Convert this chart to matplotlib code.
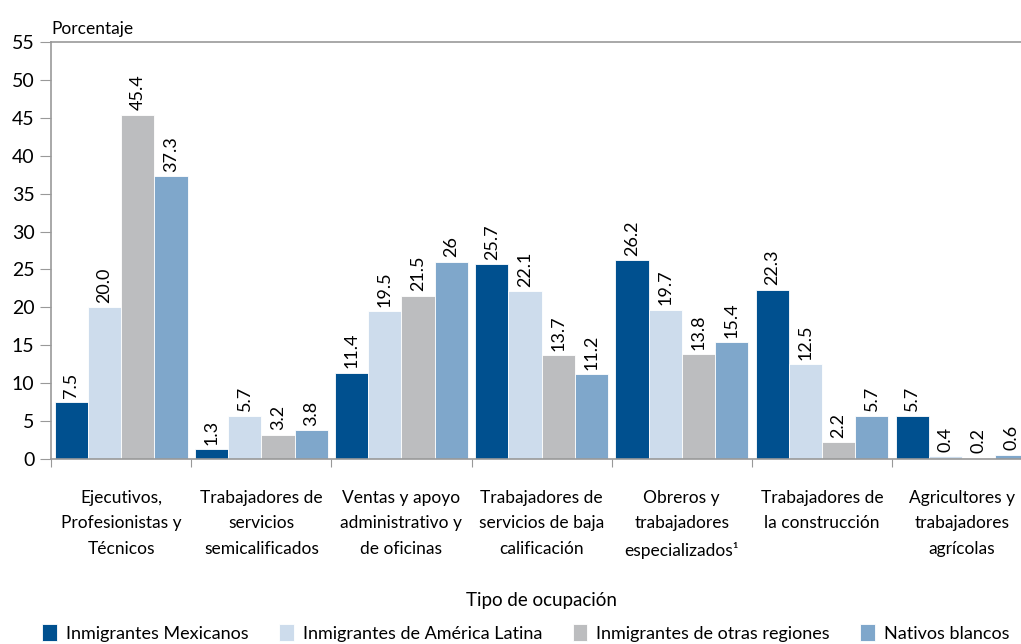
import matplotlib.pyplot as plt
import numpy as np

plt.rcParams['font.family'] = ['Lato', 'DejaVu Sans']

categories = ["Ejecutivos,\nProfesionistas y\nTécnicos",
              "Trabajadores de\nservicios\nsemicalificados",
              "Ventas y apoyo\nadministrativo y\nde oficinas",
              "Trabajadores de\nservicios de baja\ncalificación",
              "Obreros y\ntrabajadores\nespecializados¹",
              "Trabajadores de\nla construcción",
              "Agricultores y\ntrabajadores\nagrícolas"]
series_names = ["Inmigrantes Mexicanos", "Inmigrantes de América Latina",
                "Inmigrantes de otras regiones", "Nativos blancos"]
mexicanos = [7.5, 1.3, 11.4, 25.7, 26.2, 22.3, 5.7]
america_latina = [20.0, 5.7, 19.5, 22.1, 19.7, 12.5, 0.4]
otras_regiones = [45.4, 3.2, 21.5, 13.7, 13.8, 2.2, 0.2]
nativos = [37.3, 3.8, 26, 11.2, 15.4, 5.7, 0.6]
labels = [["7.5", "1.3", "11.4", "25.7", "26.2", "22.3", "5.7"],
          ["20.0", "5.7", "19.5", "22.1", "19.7", "12.5", "0.4"],
          ["45.4", "3.2", "21.5", "13.7", "13.8", "2.2", "0.2"],
          ["37.3", "3.8", "26", "11.2", "15.4", "5.7", "0.6"]]
colors = ["#00508f", "#cddcec", "#bcbdbf", "#7fa7cb"]

fig = plt.figure(figsize=(10.21, 6.44), dpi=100)
ax = fig.add_axes([0.05, 0.287, 0.961, 0.648])

x = np.arange(len(categories))
w = 0.237
series = [mexicanos, america_latina, otras_regiones, nativos]
for i, vals in enumerate(series):
    pos = x + (i - 1.5) * w
    ax.bar(pos, vals, width=w, color=colors[i], label=series_names[i],
           edgecolor='white', linewidth=0.6)
    for p, v, t in zip(pos, vals, labels[i]):
        ax.text(p, v + 0.6, t, rotation=90, ha='center', va='bottom',
                fontsize=13, color='black')

ax.set_xlim(-0.5, len(categories) - 0.5)
ax.set_ylim(0, 55)
ax.set_yticks(range(0, 56, 5))
ax.tick_params(axis='y', labelsize=14, length=8, color='#999999', pad=4)
ax.set_xticks(np.arange(len(categories) + 1) - 0.5)
ax.set_xticklabels([])
ax.set_xticks(x, minor=True)
ax.set_xticklabels(categories, minor=True, fontsize=12.5, linespacing=1.75)
ax.tick_params(axis='x', which='major', length=6, color='#999999')
ax.tick_params(axis='x', which='minor', length=0, pad=22)

for s in ['left', 'bottom', 'top']:
    ax.spines[s].set_color('#999999')
    ax.spines[s].set_linewidth(1.2)
ax.spines['right'].set_visible(False)

ax.text(0.0, 1.012, "Porcentaje", transform=ax.transAxes, fontsize=12.5,
        ha='left', va='bottom')
ax.set_xlabel("Tipo de ocupación", fontsize=13.5, labelpad=24)

fig.legend(*ax.get_legend_handles_labels(), loc='lower center',
           bbox_to_anchor=(0.515, -0.022), ncol=4, frameon=False, fontsize=13,
           handlelength=0.8, handleheight=1.1, columnspacing=1.7,
           handletextpad=0.5)

fig.savefig("out.png", dpi=100)
